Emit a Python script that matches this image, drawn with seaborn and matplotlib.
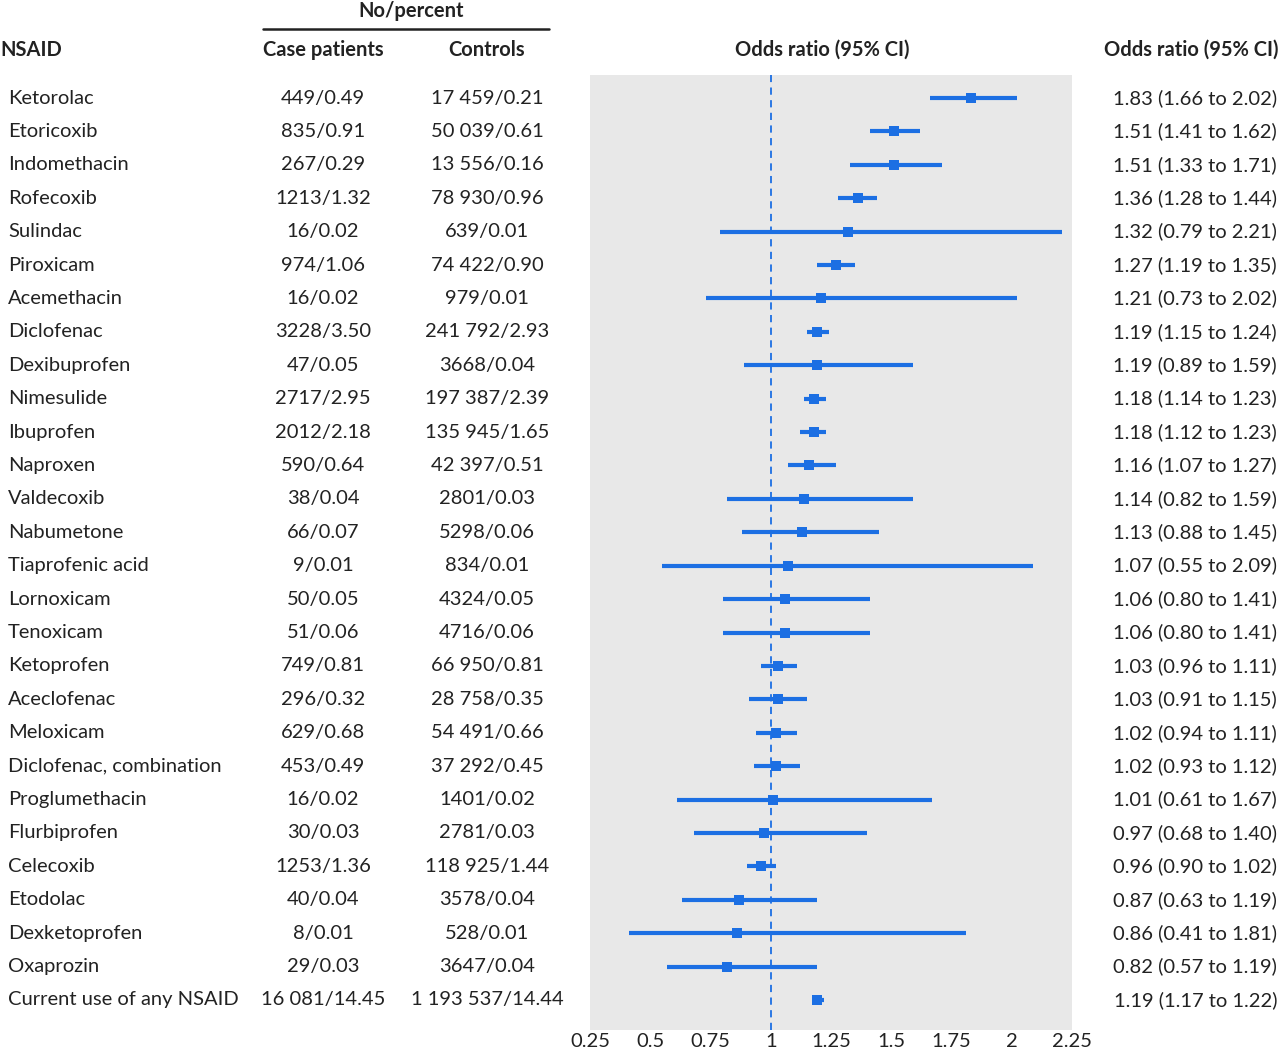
import matplotlib
matplotlib.use("Agg")
import matplotlib.pyplot as plt
import matplotlib.transforms as mtransforms
import seaborn as sns
import pandas as pd

# ---- data ----
drugs = [
    "Ketorolac", "Etoricoxib", "Indomethacin", "Rofecoxib", "Sulindac", "Piroxicam",
    "Acemethacin", "Diclofenac", "Dexibuprofen", "Nimesulide", "Ibuprofen", "Naproxen",
    "Valdecoxib", "Nabumetone", "Tiaprofenic acid", "Lornoxicam", "Tenoxicam",
    "Ketoprofen", "Aceclofenac", "Meloxicam", "Diclofenac, combination",
    "Proglumethacin", "Flurbiprofen", "Celecoxib", "Etodolac", "Dexketoprofen",
    "Oxaprozin", "Current use of any NSAID",
]
case_patients = [
    "449/0.49", "835/0.91", "267/0.29", "1213/1.32", "16/0.02", "974/1.06",
    "16/0.02", "3228/3.50", "47/0.05", "2717/2.95", "2012/2.18", "590/0.64",
    "38/0.04", "66/0.07", "9/0.01", "50/0.05", "51/0.06", "749/0.81",
    "296/0.32", "629/0.68", "453/0.49", "16/0.02", "30/0.03", "1253/1.36",
    "40/0.04", "8/0.01", "29/0.03", "16 081/14.45",
]
controls = [
    "17 459/0.21", "50 039/0.61", "13 556/0.16", "78 930/0.96",
    "639/0.01", "74 422/0.90", "979/0.01", "241 792/2.93", "3668/0.04",
    "197 387/2.39", "135 945/1.65", "42 397/0.51", "2801/0.03",
    "5298/0.06", "834/0.01", "4324/0.05", "4716/0.06", "66 950/0.81",
    "28 758/0.35", "54 491/0.66", "37 292/0.45", "1401/0.02",
    "2781/0.03", "118 925/1.44", "3578/0.04", "528/0.01", "3647/0.04",
    "1 193 537/14.44",
]
odds_ratio = [1.83, 1.51, 1.51, 1.36, 1.32, 1.27, 1.21, 1.19, 1.19, 1.18, 1.18, 1.16,
              1.14, 1.13, 1.07, 1.06, 1.06, 1.03, 1.03, 1.02, 1.02, 1.01, 0.97, 0.96,
              0.87, 0.86, 0.82, 1.19]
ci_low = [1.66, 1.41, 1.33, 1.28, 0.79, 1.19, 0.73, 1.15, 0.89, 1.14, 1.12, 1.07,
          0.82, 0.88, 0.55, 0.80, 0.80, 0.96, 0.91, 0.94, 0.93, 0.61, 0.68, 0.90,
          0.63, 0.41, 0.57, 1.17]
ci_high = [2.02, 1.62, 1.71, 1.44, 2.21, 1.35, 2.02, 1.24, 1.59, 1.23, 1.23, 1.27,
           1.59, 1.45, 2.09, 1.41, 1.41, 1.11, 1.15, 1.11, 1.12, 1.67, 1.40, 1.02,
           1.19, 1.81, 1.19, 1.22]
x_ticks = [0.25, 0.5, 0.75, 1, 1.25, 1.5, 1.75, 2, 2.25]
x_tick_labels = ["0.25", "0.5", "0.75", "1", "1.25", "1.5", "1.75", "2", "2.25"]

df = pd.DataFrame({"drug": drugs, "or": odds_ratio, "lo": ci_low, "hi": ci_high})
df["row"] = range(len(df))

BLUE = "#1c6fe3"
TEXT = "#222222"
FS = 14.5

sns.set_theme(style="white")
plt.rcParams["font.family"] = ["Lato", "DejaVu Sans"]

fig = plt.figure(figsize=(12.8, 10.56), dpi=100)
ax = fig.add_axes([590 / 1280, 1 - 1030 / 1056, 482 / 1280, (1030 - 75) / 1056])
ax.set_facecolor("#e8e8e8")

ax.hlines(df["row"], df["lo"], df["hi"], color=BLUE, lw=3, zorder=2)
sns.scatterplot(data=df, x="or", y="row", marker="s", s=55, color=BLUE,
                edgecolor=BLUE, linewidth=0, zorder=3, ax=ax, legend=False)
ax.axvline(1, color=BLUE, lw=1.3, ls=(0, (4, 3)), zorder=1)

ax.set_xlim(0.25, 2.25)
ax.set_ylim(len(df) - 1 + 0.9, -0.69)
ax.set_xticks(x_ticks)
ax.set_xticklabels(x_tick_labels, fontsize=FS, color=TEXT)
ax.set_yticks([])
ax.set_xlabel("")
ax.set_ylabel("")
ax.tick_params(axis="x", direction="in", length=7, width=2, color="white", pad=2)
for s in ax.spines.values():
    s.set_visible(False)

# table text
tr = mtransforms.blended_transform_factory(fig.transFigure, ax.transData)
for i, row in df.iterrows():
    ax.text(8 / 1280, i, row["drug"], transform=tr, ha="left", va="center",
            fontsize=FS, color=TEXT, clip_on=False)
    ax.text(323 / 1280, i, case_patients[i], transform=tr, ha="center", va="center",
            fontsize=FS, color=TEXT, clip_on=False)
    ax.text(487 / 1280, i, controls[i], transform=tr, ha="center", va="center",
            fontsize=FS, color=TEXT, clip_on=False)
    ax.text(1277 / 1280, i, f"{row['or']:.2f} ({row['lo']:.2f} to {row['hi']:.2f})",
            transform=tr, ha="right", va="center", fontsize=FS, color=TEXT, clip_on=False)

# headers
hy = 1 - 50 / 1056
fig.text(0 / 1280, hy, "NSAID", ha="left", va="center", fontsize=FS, weight="bold", color=TEXT)
fig.text(323 / 1280, hy, "Case patients", ha="center", va="center", fontsize=FS, weight="bold", color=TEXT)
fig.text(487 / 1280, hy, "Controls", ha="center", va="center", fontsize=FS, weight="bold", color=TEXT)
fig.text(822 / 1280, hy, "Odds ratio (95% CI)", ha="center", va="center", fontsize=FS, weight="bold", color=TEXT)
fig.text(1279 / 1280, hy, "Odds ratio (95% CI)", ha="right", va="center", fontsize=FS, weight="bold", color=TEXT)
fig.text(411 / 1280, 1 - 11 / 1056, "No/percent", ha="center", va="center", fontsize=FS, weight="bold", color=TEXT)
fig.add_artist(plt.Line2D([263 / 1280, 549 / 1280], [1 - 29 / 1056] * 2, color=TEXT, lw=1.8))

fig.savefig("out.png", dpi=100)
